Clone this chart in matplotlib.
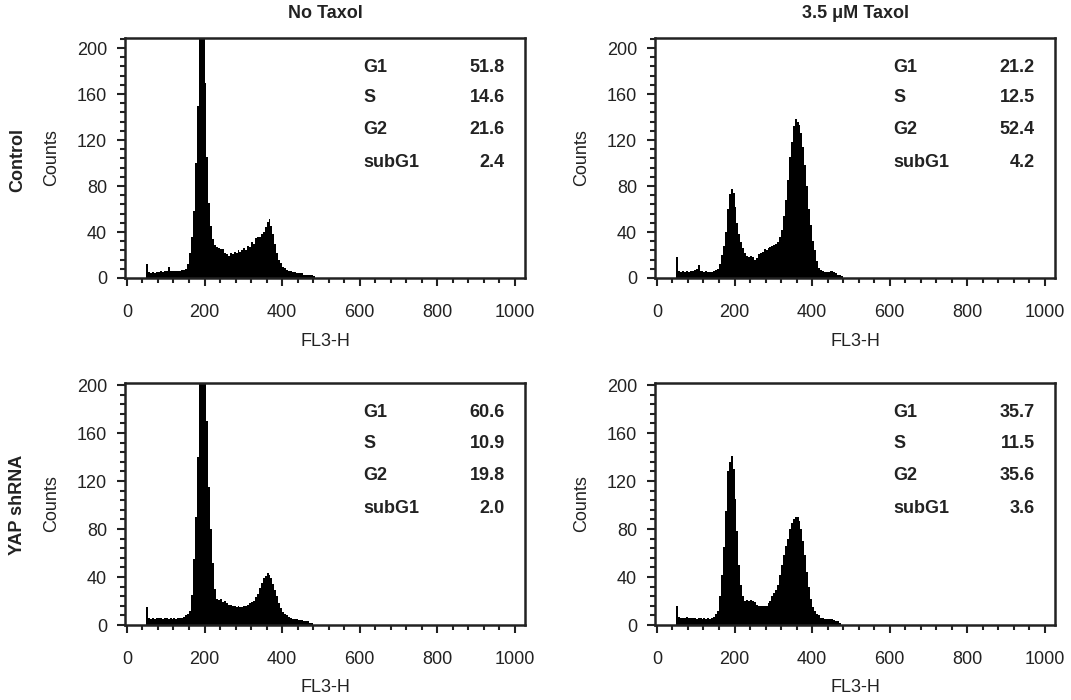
import numpy as np
import matplotlib
matplotlib.use("Agg")
import matplotlib.pyplot as plt
from matplotlib.ticker import MultipleLocator

plt.rcParams['font.family'] = ['Liberation Sans', 'DejaVu Sans']

# ---- data: counts per 5-channel bin, channels 0..495 ----
bin_width = 5
channels = np.arange(0, 500, bin_width)

control_no_taxol = [
    0, 0, 0, 0, 0, 0, 0, 0, 0, 0,
    12, 5, 4, 5, 4, 5, 5, 6, 5, 6,
    6, 10, 6, 6, 6, 6, 6, 6, 7, 7,
    8, 12, 22, 36, 58, 100, 150, 215, 230, 220,
    170, 105, 65, 45, 34, 29, 27, 26, 25, 25,
    22, 21, 19, 22, 21, 23, 22, 24, 23, 24,
    26, 24, 28, 27, 31, 30, 35, 36, 36, 38,
    40, 44, 49, 51, 45, 38, 30, 22, 16, 13,
    10, 9, 7, 6, 6, 5, 5, 4, 4, 4,
    4, 3, 3, 3, 3, 3, 2, 0, 0, 0,
]
control_taxol = [
    0, 0, 0, 0, 0, 0, 0, 0, 0, 0,
    18, 6, 5, 6, 5, 6, 5, 6, 6, 7,
    8, 11, 6, 6, 5, 6, 5, 5, 5, 6,
    7, 8, 12, 20, 28, 40, 60, 73, 77, 74,
    62, 48, 38, 31, 26, 22, 19, 18, 19, 18,
    16, 17, 21, 22, 23, 25, 24, 26, 27, 28,
    29, 30, 31, 36, 42, 54, 68, 85, 105, 118,
    132, 138, 136, 133, 126, 114, 98, 80, 60, 46,
    32, 24, 15, 9, 7, 6, 5, 5, 5, 6,
    6, 5, 4, 3, 3, 2, 0, 0, 0, 0,
]
yap_no_taxol = [
    0, 0, 0, 0, 0, 0, 0, 0, 0, 0,
    15, 6, 5, 6, 5, 6, 6, 6, 5, 6,
    6, 5, 6, 5, 6, 5, 6, 6, 6, 7,
    8, 9, 12, 25, 55, 90, 140, 205, 230, 235,
    215, 170, 115, 80, 52, 30, 22, 21, 22, 19,
    20, 18, 17, 17, 16, 16, 15, 16, 15, 15,
    16, 16, 17, 18, 19, 20, 23, 26, 31, 35,
    39, 41, 43, 42, 39, 34, 29, 24, 18, 14,
    11, 9, 8, 7, 6, 5, 5, 5, 4, 4,
    4, 3, 3, 3, 2, 2, 0, 0, 0, 0,
]
yap_taxol = [
    0, 0, 0, 0, 0, 0, 0, 0, 0, 0,
    16, 7, 6, 6, 6, 7, 6, 6, 6, 6,
    5, 6, 6, 5, 6, 5, 6, 5, 6, 7,
    9, 12, 24, 42, 65, 95, 128, 136, 141, 130,
    105, 78, 50, 33, 24, 20, 21, 20, 21, 20,
    19, 17, 16, 16, 16, 16, 16, 18, 20, 24,
    27, 29, 33, 42, 50, 58, 66, 72, 80, 85,
    88, 90, 90, 87, 80, 70, 58, 44, 32, 22,
    15, 12, 9, 8, 6, 6, 5, 5, 5, 5,
    5, 4, 3, 3, 2, 0, 0, 0, 0, 0,
]

phase_names = ["G1", "S", "G2", "subG1"]
stats_control_no_taxol = ["51.8", "14.6", "21.6", "2.4"]
stats_control_taxol = ["21.2", "12.5", "52.4", "4.2"]
stats_yap_no_taxol = ["60.6", "10.9", "19.8", "2.0"]
stats_yap_taxol = ["35.7", "11.5", "35.6", "3.6"]

col_titles = ["No Taxol", "3.5 \u03bcM Taxol"]
row_titles = ["Control", "YAP shRNA"]
x_ticks = [0, 200, 400, 600, 800, 1000]
y_ticks = [0, 40, 80, 120, 160, 200]

W, H = 1071, 700
fig = plt.figure(figsize=(W / 100, H / 100), dpi=100)

def px_axes(left, right, top, bottom):
    return fig.add_axes([left / W, 1 - bottom / H, (right - left) / W, (bottom - top) / H])

panels = [
    (px_axes(125, 525, 38, 278), control_no_taxol, stats_control_no_taxol, 208.7),
    (px_axes(655, 1055, 38, 278), control_taxol, stats_control_taxol, 208.7),
    (px_axes(125, 525, 383, 625), yap_no_taxol, stats_yap_no_taxol, 201.7),
    (px_axes(655, 1055, 383, 625), yap_taxol, stats_yap_taxol, 201.7),
]

edges = np.append(channels, channels[-1] + bin_width)
fs = 13
for ax, counts, stats, ytop in panels:
    ax.stairs(counts, edges, fill=True, color="black", linewidth=0)
    ax.set_xlim(-5, 1026)
    ax.set_ylim(0, ytop)
    ax.set_xticks(x_ticks)
    ax.set_yticks(y_ticks)
    ax.xaxis.set_minor_locator(MultipleLocator(40))
    ax.yaxis.set_minor_locator(MultipleLocator(8))
    ax.tick_params(which="major", direction="out", length=6, width=1.5,
                   labelsize=fs, colors="#222222")
    ax.tick_params(which="minor", direction="out", length=3.5, width=1.5,
                   colors="#222222")
    ax.tick_params(axis="x", which="major", pad=13)
    ax.tick_params(axis="y", which="major", pad=7)
    for sp in ax.spines.values():
        sp.set_linewidth(1.8)
        sp.set_color("#222222")
    ax.set_xlabel("FL3-H", fontsize=fs, color="#222222", labelpad=8)
    ax.set_ylabel("Counts", fontsize=fs, color="#222222", labelpad=12)
    ys = [0.879, 0.75, 0.617, 0.483]
    for name, val, yy in zip(phase_names, stats, ys):
        ax.text(0.595, yy, name, transform=ax.transAxes, fontsize=fs,
                fontweight="bold", ha="left", va="center", color="#222222")
        ax.text(0.95, yy, val, transform=ax.transAxes, fontsize=fs,
                fontweight="bold", ha="right", va="center", color="#222222")

fig.text(325 / W, 1 - 14 / H, col_titles[0], fontsize=fs, fontweight="bold",
         ha="center", va="center", color="#222222")
fig.text(855 / W, 1 - 14 / H, col_titles[1], fontsize=fs, fontweight="bold",
         ha="center", va="center", color="#222222")
fig.text(18 / W, 1 - 160 / H, row_titles[0], fontsize=fs, fontweight="bold",
         rotation=90, ha="center", va="center", color="#222222")
fig.text(18 / W, 1 - 505 / H, row_titles[1], fontsize=fs, fontweight="bold",
         rotation=90, ha="center", va="center", color="#222222")

fig.savefig("out.png", dpi=100)
